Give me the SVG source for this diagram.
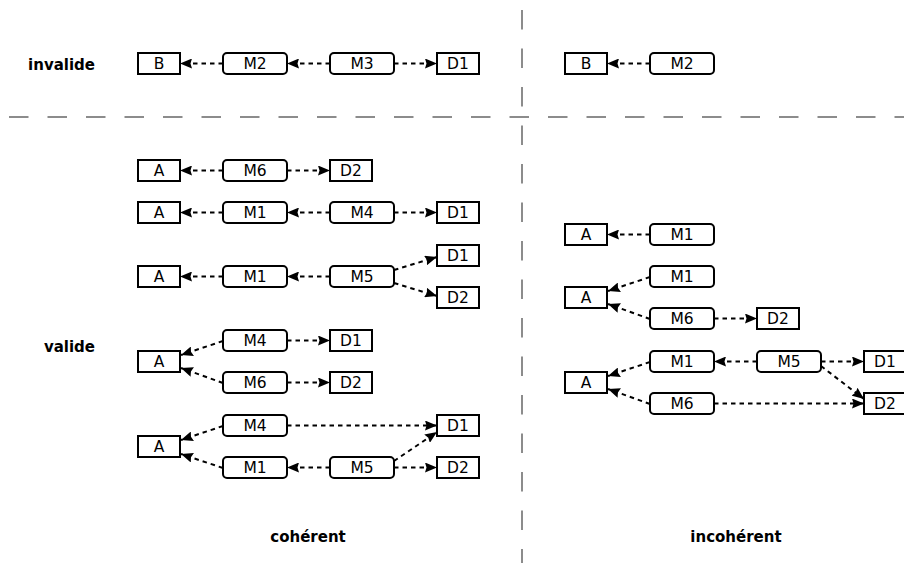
<svg xmlns="http://www.w3.org/2000/svg" width="904" height="563" viewBox="0 0 904 563">
<style>
.bg{fill:#fff}
.div{stroke:#8c8c8c;stroke-width:2;stroke-dasharray:19.5,19;fill:none}
.r{fill:#fff;stroke:#000;stroke-width:2}
.m{fill:#fff;stroke:#000;stroke-width:2}
.t{font-family:"DejaVu Sans","Liberation Sans",sans-serif;font-size:15.5px;text-anchor:middle;fill:#000}
.lbl{font-family:"DejaVu Sans","Liberation Sans",sans-serif;font-size:15px;font-weight:bold;fill:#000}
.c{stroke:#000;stroke-width:2;stroke-dasharray:4.5,4;fill:none;marker-end:url(#ah)}
</style>
<defs>
<marker id="ah" markerUnits="userSpaceOnUse" viewBox="0 0 12 10" refX="12" refY="5" markerWidth="12" markerHeight="10" orient="auto">
<path d="M0,0 L12,5 L0,10 L1.5,5 z" fill="#000"/>
</marker>
</defs>
<rect class="bg" x="0" y="0" width="904" height="563"/>
<g id="dividers">
<line class="div" x1="9" y1="117" x2="904" y2="117"/>
<line class="div" x1="522" y1="10" x2="522" y2="563"/>
</g>
<g id="labels">
<text class="lbl" x="95" y="69.5" text-anchor="end">invalide</text>
<text class="lbl" x="95" y="352" text-anchor="end">valide</text>
<text class="lbl" x="308" y="542" text-anchor="middle">cohérent</text>
<text class="lbl" x="736" y="542" text-anchor="middle">incohérent</text>
</g>
<g id="connectors">
<line class="c" x1="223" y1="63.5" x2="180" y2="63.5"/>
<line class="c" x1="330" y1="63.5" x2="287" y2="63.5"/>
<line class="c" x1="394" y1="63.5" x2="437" y2="63.5"/>
<line class="c" x1="650" y1="63.5" x2="607" y2="63.5"/>
<line class="c" x1="223" y1="170.5" x2="180" y2="170.5"/>
<line class="c" x1="287" y1="170.5" x2="330" y2="170.5"/>
<line class="c" x1="223" y1="212.5" x2="180" y2="212.5"/>
<line class="c" x1="330" y1="212.5" x2="287" y2="212.5"/>
<line class="c" x1="394" y1="212.5" x2="437" y2="212.5"/>
<line class="c" x1="223" y1="276.5" x2="180" y2="276.5"/>
<line class="c" x1="330" y1="276.5" x2="287" y2="276.5"/>
<line class="c" x1="394" y1="270" x2="437" y2="257"/>
<line class="c" x1="394" y1="283" x2="437" y2="296"/>
<line class="c" x1="223" y1="341" x2="181" y2="355"/>
<line class="c" x1="223" y1="383" x2="181" y2="368"/>
<line class="c" x1="287" y1="340.5" x2="330" y2="340.5"/>
<line class="c" x1="287" y1="382.5" x2="330" y2="382.5"/>
<line class="c" x1="223" y1="426" x2="181" y2="440"/>
<line class="c" x1="223" y1="468" x2="181" y2="454"/>
<line class="c" x1="287" y1="425.5" x2="437" y2="425.5"/>
<line class="c" x1="330" y1="467.5" x2="287" y2="467.5"/>
<line class="c" x1="394" y1="461" x2="437" y2="432"/>
<line class="c" x1="394" y1="467.5" x2="437" y2="467.5"/>
<line class="c" x1="650" y1="234.5" x2="607" y2="234.5"/>
<line class="c" x1="650" y1="277" x2="608" y2="291"/>
<line class="c" x1="650" y1="319" x2="608" y2="304"/>
<line class="c" x1="714" y1="318.5" x2="757" y2="318.5"/>
<line class="c" x1="650" y1="362" x2="608" y2="376"/>
<line class="c" x1="650" y1="404" x2="608" y2="389"/>
<line class="c" x1="757" y1="361.5" x2="714" y2="361.5"/>
<line class="c" x1="821" y1="361.5" x2="864" y2="361.5"/>
<line class="c" x1="821" y1="366" x2="864" y2="399"/>
<line class="c" x1="714" y1="403.5" x2="864" y2="403.5"/>
</g>
<g id="tl-B"><rect class="r" x="138" y="53" width="42" height="21"/><text class="t" x="159" y="69.2">B</text></g>
<g id="tl-M2"><rect class="m" x="223" y="53" width="64" height="21" rx="4"/><text class="t" x="255" y="69.2">M2</text></g>
<g id="tl-M3"><rect class="m" x="330" y="53" width="64" height="21" rx="4"/><text class="t" x="362" y="69.2">M3</text></g>
<g id="tl-D1"><rect class="r" x="437" y="53" width="42" height="21"/><text class="t" x="458" y="69.2">D1</text></g>
<g id="tr-B"><rect class="r" x="565" y="53" width="42" height="21"/><text class="t" x="586" y="69.2">B</text></g>
<g id="tr-M2"><rect class="m" x="650" y="53" width="64" height="21" rx="4"/><text class="t" x="682" y="69.2">M2</text></g>
<g id="l1-A"><rect class="r" x="138" y="160" width="42" height="21"/><text class="t" x="159" y="176.2">A</text></g>
<g id="l1-M6"><rect class="m" x="223" y="160" width="64" height="21" rx="4"/><text class="t" x="255" y="176.2">M6</text></g>
<g id="l1-D2"><rect class="r" x="330" y="160" width="42" height="21"/><text class="t" x="351" y="176.2">D2</text></g>
<g id="l2-A"><rect class="r" x="138" y="202" width="42" height="21"/><text class="t" x="159" y="218.2">A</text></g>
<g id="l2-M1"><rect class="m" x="223" y="202" width="64" height="21" rx="4"/><text class="t" x="255" y="218.2">M1</text></g>
<g id="l2-M4"><rect class="m" x="330" y="202" width="64" height="21" rx="4"/><text class="t" x="362" y="218.2">M4</text></g>
<g id="l2-D1"><rect class="r" x="437" y="202" width="42" height="21"/><text class="t" x="458" y="218.2">D1</text></g>
<g id="l3-A"><rect class="r" x="138" y="266" width="42" height="21"/><text class="t" x="159" y="282.2">A</text></g>
<g id="l3-M1"><rect class="m" x="223" y="266" width="64" height="21" rx="4"/><text class="t" x="255" y="282.2">M1</text></g>
<g id="l3-M5"><rect class="m" x="330" y="266" width="64" height="21" rx="4"/><text class="t" x="362" y="282.2">M5</text></g>
<g id="l3-D1"><rect class="r" x="437" y="245" width="42" height="21"/><text class="t" x="458" y="261.2">D1</text></g>
<g id="l3-D2"><rect class="r" x="437" y="287" width="42" height="21"/><text class="t" x="458" y="303.2">D2</text></g>
<g id="l4-A"><rect class="r" x="138" y="351" width="42" height="21"/><text class="t" x="159" y="367.2">A</text></g>
<g id="l4-M4"><rect class="m" x="223" y="330" width="64" height="21" rx="4"/><text class="t" x="255" y="346.2">M4</text></g>
<g id="l4-M6"><rect class="m" x="223" y="372" width="64" height="21" rx="4"/><text class="t" x="255" y="388.2">M6</text></g>
<g id="l4-D1"><rect class="r" x="330" y="330" width="42" height="21"/><text class="t" x="351" y="346.2">D1</text></g>
<g id="l4-D2"><rect class="r" x="330" y="372" width="42" height="21"/><text class="t" x="351" y="388.2">D2</text></g>
<g id="l5-A"><rect class="r" x="138" y="436" width="42" height="21"/><text class="t" x="159" y="452.2">A</text></g>
<g id="l5-M4"><rect class="m" x="223" y="415" width="64" height="21" rx="4"/><text class="t" x="255" y="431.2">M4</text></g>
<g id="l5-M1"><rect class="m" x="223" y="457" width="64" height="21" rx="4"/><text class="t" x="255" y="473.2">M1</text></g>
<g id="l5-M5"><rect class="m" x="330" y="457" width="64" height="21" rx="4"/><text class="t" x="362" y="473.2">M5</text></g>
<g id="l5-D1"><rect class="r" x="437" y="415" width="42" height="21"/><text class="t" x="458" y="431.2">D1</text></g>
<g id="l5-D2"><rect class="r" x="437" y="457" width="42" height="21"/><text class="t" x="458" y="473.2">D2</text></g>
<g id="r1-A"><rect class="r" x="565" y="224" width="42" height="21"/><text class="t" x="586" y="240.2">A</text></g>
<g id="r1-M1"><rect class="m" x="650" y="224" width="64" height="21" rx="4"/><text class="t" x="682" y="240.2">M1</text></g>
<g id="r2-A"><rect class="r" x="565" y="287" width="42" height="21"/><text class="t" x="586" y="303.2">A</text></g>
<g id="r2-M1"><rect class="m" x="650" y="266" width="64" height="21" rx="4"/><text class="t" x="682" y="282.2">M1</text></g>
<g id="r2-M6"><rect class="m" x="650" y="308" width="64" height="21" rx="4"/><text class="t" x="682" y="324.2">M6</text></g>
<g id="r2-D2"><rect class="r" x="757" y="308" width="42" height="21"/><text class="t" x="778" y="324.2">D2</text></g>
<g id="r3-A"><rect class="r" x="565" y="372" width="42" height="21"/><text class="t" x="586" y="388.2">A</text></g>
<g id="r3-M1"><rect class="m" x="650" y="351" width="64" height="21" rx="4"/><text class="t" x="682" y="367.2">M1</text></g>
<g id="r3-M6"><rect class="m" x="650" y="393" width="64" height="21" rx="4"/><text class="t" x="682" y="409.2">M6</text></g>
<g id="r3-M5"><rect class="m" x="757" y="351" width="64" height="21" rx="4"/><text class="t" x="789" y="367.2">M5</text></g>
<g id="r3-D1"><rect class="r" x="864" y="351" width="42" height="21"/><text class="t" x="885" y="367.2">D1</text></g>
<g id="r3-D2"><rect class="r" x="864" y="393" width="42" height="21"/><text class="t" x="885" y="409.2">D2</text></g>
</svg>
